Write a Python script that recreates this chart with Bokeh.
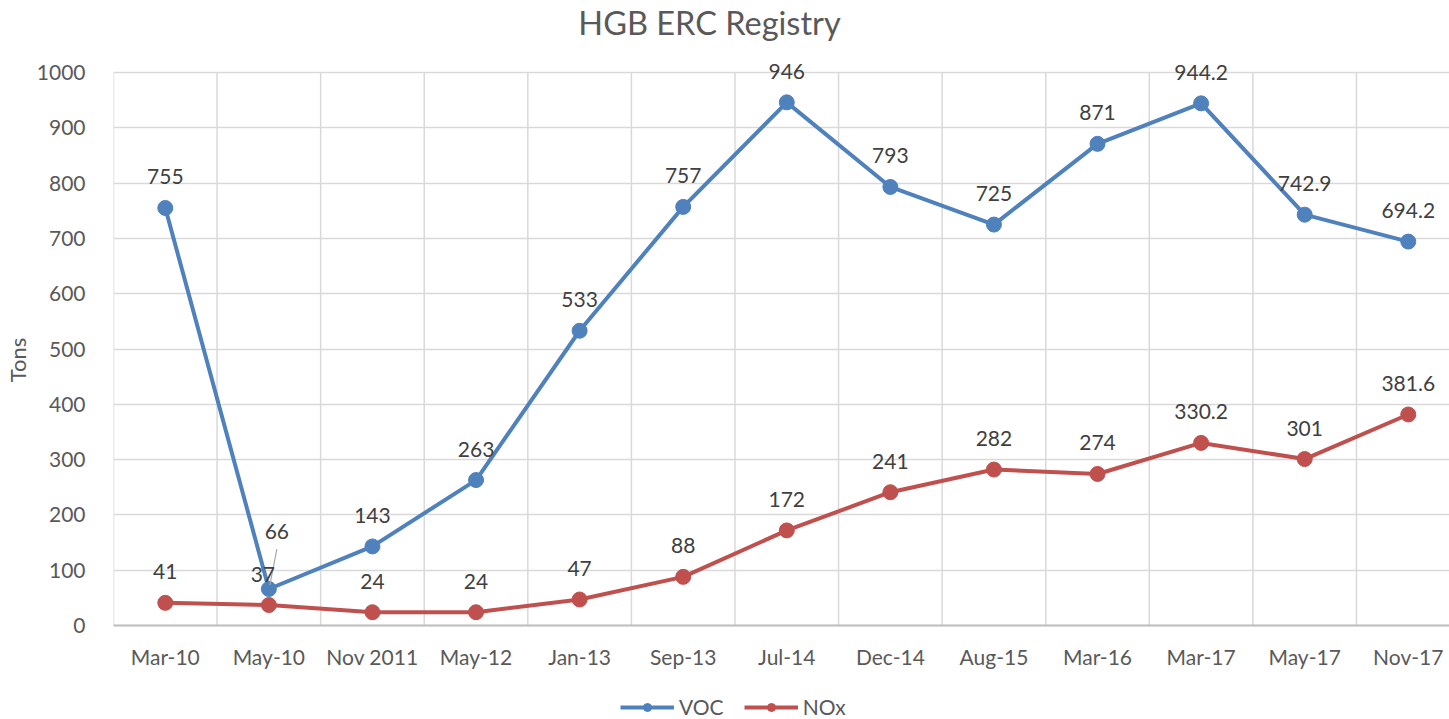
from bokeh.plotting import figure
from bokeh.models import (ColumnDataSource, Range1d, FixedTicker, LabelSet, Legend,
                          LegendItem, Segment, Label, Span)
from bokeh.core.properties import value
from bokeh.embed import file_html
from bokeh.resources import INLINE

title = "HGB ERC Registry"
categories = ["Mar-10", "May-10", "Nov 2011", "May-12", "Jan-13", "Sep-13", "Jul-14",
              "Dec-14", "Aug-15", "Mar-16", "Mar-17", "May-17", "Nov-17"]
voc = [755, 66, 143, 263, 533, 757, 946, 793, 725, 871, 944.2, 742.9, 694.2]
nox = [41, 37, 24, 24, 47, 88, 172, 241, 282, 274, 330.2, 301, 381.6]
voc_text = ["755", "66", "143", "263", "533", "757", "946", "793", "725", "871", "944.2", "742.9", "694.2"]
nox_text = ["41", "37", "24", "24", "47", "88", "172", "241", "282", "274", "330.2", "301", "381.6"]
y_ticks = [0, 100, 200, 300, 400, 500, 600, 700, 800, 900, 1000]

FONT = "Lato"
FS = "21px"
TXT = "#595959"
BLUE = "#4F81BD"
RED = "#C0504D"
GRID = "#d9d9d9"

n = len(categories)
xs = list(range(n))
Y_MIN = y_ticks[0]
Y_MAX = y_ticks[-1]

# layout (pixels)
FIG_H = 719
LEFT = 113
FRAME_W = 1336
PLOT_H = 553            # pixel height of the 0..1000 value span
HEAD = 72               # pixels above the top gridline (title area)
FOOT = FIG_H - HEAD - PLOT_H   # pixels below the zero line (category labels + legend)
PX_PER_UNIT_Y = PLOT_H / float(Y_MAX - Y_MIN)
Y_TOP = Y_MAX + HEAD / PX_PER_UNIT_Y
Y_BOT = Y_MIN - FOOT / PX_PER_UNIT_Y
X_END = 12.398
PX_PER_CAT = FRAME_W / (X_END + 0.5)

# label offsets (screen px)
voc_dx = [0] * n
voc_dy = [31] * n
voc_dx[1] = 8
voc_dy[1] = 58
nox_dx = [0] * n
nox_dy = [31] * n
nox_dx[1] = -6

src_voc = ColumnDataSource(dict(x=xs, y=voc, t=voc_text, dx=voc_dx, dy=voc_dy))
src_nox = ColumnDataSource(dict(x=xs, y=nox, t=nox_text, dx=nox_dx, dy=nox_dy))
src_cat = ColumnDataSource(dict(x=xs, y=[Y_MIN] * n, t=categories))

p = figure(frame_width=FRAME_W, frame_height=FIG_H, output_backend="svg", toolbar_location=None,
           x_range=Range1d(-0.5, X_END), y_range=Range1d(Y_BOT, Y_TOP),
           x_axis_location=None,
           min_border_left=LEFT, min_border_right=0, min_border_top=0, min_border_bottom=0)

p.outline_line_color = None
p.background_fill_color = "white"

# chart title
p.add_layout(Label(x=596, y=FIG_H - 22, x_units="screen", y_units="screen", text=title,
                   text_align="center", text_baseline="middle", text_font=FONT,
                   text_font_size="32.5px", text_color=TXT))

# vertical category separators, bounded by the value axis range
p.xgrid.visible = False
bounds = [i - 0.5 for i in range(n + 1)]
p.segment(x0=bounds, y0=[Y_MIN] * len(bounds), x1=bounds, y1=[Y_MAX] * len(bounds),
          line_color=GRID, line_width=1.5, level="underlay")
p.ygrid.ticker = FixedTicker(ticks=y_ticks)
p.ygrid.grid_line_color = GRID
p.ygrid.grid_line_width = 1.5

# category axis: baseline + labels
p.add_layout(Span(location=Y_MIN, dimension="width", line_color="#bfbfbf", line_width=2))
p.add_layout(LabelSet(x="x", y="y", text="t", source=src_cat, y_offset=-31,
                      text_align="center", text_baseline="middle",
                      text_font=value(FONT), text_font_size=value(FS), text_color=TXT))

# y axis
p.yaxis.ticker = FixedTicker(ticks=y_ticks)
p.yaxis.major_tick_line_color = None
p.yaxis.minor_tick_line_color = None
p.yaxis.axis_line_color = None
p.yaxis.major_label_text_font = FONT
p.yaxis.major_label_text_font_size = FS
p.yaxis.major_label_text_color = TXT
p.yaxis.major_label_standoff = 22
p.yaxis.axis_label = "Tons"
p.yaxis.axis_label_text_font = FONT
p.yaxis.axis_label_text_font_size = "22px"
p.yaxis.axis_label_text_font_style = "normal"
p.yaxis.axis_label_text_color = TXT
p.yaxis.axis_label_standoff = 3

# series
l1 = p.line("x", "y", source=src_voc, line_color=BLUE, line_width=4)
s1 = p.scatter("x", "y", source=src_voc, size=15, fill_color=BLUE, line_color=BLUE)
l2 = p.line("x", "y", source=src_nox, line_color=RED, line_width=4)
s2 = p.scatter("x", "y", source=src_nox, size=15, fill_color=RED, line_color=RED)

# leader line for the displaced "66" label
i66 = 1
lead = ColumnDataSource(dict(x0=[i66 + 1 / PX_PER_CAT], y0=[voc[i66] + 4 / PX_PER_UNIT_Y],
                             x1=[i66 + 8 / PX_PER_CAT], y1=[voc[i66] + 40 / PX_PER_UNIT_Y]))
p.add_glyph(lead, Segment(x0="x0", y0="y0", x1="x1", y1="y1", line_color="#a6a6a6", line_width=1.2))

for src in (src_voc, src_nox):
    p.add_layout(LabelSet(x="x", y="y", text="t", source=src, x_offset="dx", y_offset="dy",
                          text_align="center", text_baseline="middle",
                          text_font=value(FONT), text_font_size=value(FS), text_color="#404040"))

legend = Legend(items=[LegendItem(label="VOC", renderers=[l1, s1]),
                       LegendItem(label="NOx", renderers=[l2, s2])],
                orientation="horizontal", location=(507, 0))
legend.label_text_font = FONT
legend.label_text_font_size = FS
legend.label_text_color = TXT
legend.glyph_width = 54
legend.glyph_height = 20
legend.label_height = 20
legend.label_standoff = 5
legend.spacing = 20
legend.padding = 0
legend.margin = 0
legend.border_line_color = None
legend.background_fill_alpha = 0
p.add_layout(legend, "center")

open("out.html", "w").write(file_html(p, INLINE))
